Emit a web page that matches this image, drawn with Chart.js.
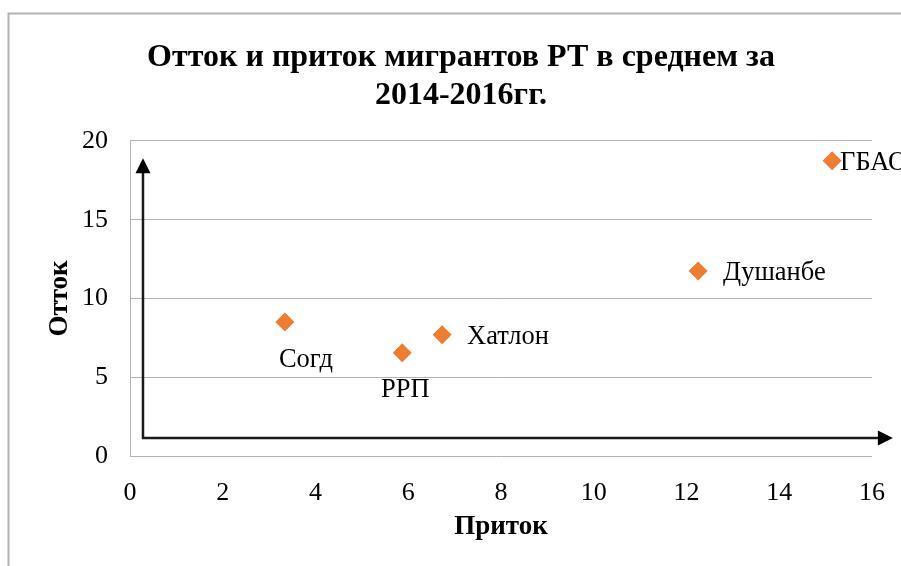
<!DOCTYPE html>
<html lang="ru">
<head>
<meta charset="utf-8">
<script src="https://cdn.jsdelivr.net/npm/chart.js@4/dist/chart.umd.min.js"></script>
<style>
  html, body { margin: 0; padding: 0; background: #fff; }
  #wrap { width: 901px; height: 566px; }
</style>
</head>
<body>
<div id="wrap"><canvas id="grafico" width="901" height="566"></canvas></div>
<script>
// Регионы и средние значения за 2014-2016
const regioes = ["Согд", "РРП", "Хатлон", "Душанбе", "ГБАО"];
const pritok = [3.34, 5.87, 6.73, 12.25, 15.14];
const ottok = [8.5, 6.55, 7.7, 11.75, 18.75];

const tituloLinhas = ["Отток и приток мигрантов РТ в среднем за", "2014-2016гг."];
const eixoX = "Приток";
const eixoY = "Отток";

// Стрелки осей (в единицах шкал)
const origemSeta = {x: 0.28, y: 1.15};
const fimSetaX = 16.45;
const fimSetaY = 18.9;

// Смещения подписей точек, px
const posRotulos = [
  {dx: 21, dy: 38, align: "center"},
  {dx: 3, dy: 37, align: "center"},
  {dx: 25, dy: 2, align: "left"},
  {dx: 25, dy: 2, align: "left"},
  {dx: 8, dy: 2, align: "left"}
];

const fonteSerif = "'Liberation Serif', 'Times New Roman', serif";
const cinza = "#b3b3b3";

// Рамка вокруг диаграммы
const moldura = {
  id: "moldura",
  beforeDraw(chart) {
    const ctx = chart.ctx;
    ctx.save();
    ctx.strokeStyle = cinza;
    ctx.lineWidth = 2;
    ctx.beginPath();
    ctx.moveTo(901, 13.5);
    ctx.lineTo(8.5, 13.5);
    ctx.lineTo(8.5, 566);
    ctx.stroke();
    ctx.restore();
  }
};

function pontaSeta(ctx, x, y, ang) {
  const comp = 15, meia = 7.5;
  ctx.beginPath();
  ctx.moveTo(x, y);
  ctx.lineTo(x - comp * Math.cos(ang) - meia * Math.sin(ang), y - comp * Math.sin(ang) + meia * Math.cos(ang));
  ctx.lineTo(x - comp * Math.cos(ang) + meia * Math.sin(ang), y - comp * Math.sin(ang) - meia * Math.cos(ang));
  ctx.closePath();
  ctx.fill();
}

// Стрелки осей и подписи точек
const setasERotulos = {
  id: "setasERotulos",
  afterDatasetsDraw(chart) {
    const ctx = chart.ctx;
    const sx = chart.scales.x, sy = chart.scales.y;
    const x0 = sx.getPixelForValue(origemSeta.x);
    const y0 = sy.getPixelForValue(origemSeta.y);
    const x1 = sx.getPixelForValue(fimSetaX);
    const y1 = sy.getPixelForValue(fimSetaY);
    ctx.save();
    ctx.strokeStyle = "#1a1a1a";
    ctx.fillStyle = "#000";
    ctx.lineWidth = 2.5;
    ctx.beginPath();
    ctx.moveTo(x0, y1 + 10);
    ctx.lineTo(x0, y0);
    ctx.lineTo(x1 - 10, y0);
    ctx.stroke();
    pontaSeta(ctx, x0, y1, -Math.PI / 2);
    pontaSeta(ctx, x1, y0, 0);

    ctx.font = "26.5px " + fonteSerif;
    ctx.fillStyle = "#000";
    ctx.textBaseline = "middle";
    regioes.forEach((r, i) => {
      const p = posRotulos[i];
      ctx.textAlign = p.align;
      ctx.fillText(r, sx.getPixelForValue(pritok[i]) + p.dx, sy.getPixelForValue(ottok[i]) + p.dy);
    });
    ctx.restore();
  }
};

const ctx = document.getElementById("grafico").getContext("2d");
new Chart(ctx, {
  type: "scatter",
  data: {
    datasets: [{
      data: pritok.map((v, i) => ({x: v, y: ottok[i]})),
      pointStyle: "rectRot",
      pointRadius: 9.5,
      pointHoverRadius: 9.5,
      backgroundColor: "#ed7d31",
      borderWidth: 0
    }]
  },
  options: {
    responsive: false,
    animation: false,
    layout: { padding: { left: 50, right: 29, top: 0, bottom: 0 } },
    plugins: {
      legend: { display: false },
      tooltip: { enabled: false },
      title: {
        display: true,
        text: tituloLinhas,
        color: "#000",
        font: { family: fonteSerif, size: 32, weight: "bold", lineHeight: 1.19 },
        padding: { top: 39, bottom: 25.8 }
      }
    },
    scales: {
      x: {
        type: "linear",
        min: 0,
        max: 16,
        ticks: { stepSize: 2, color: "#000", padding: 16, font: { family: fonteSerif, size: 26, lineHeight: 1.66 } },
        grid: { display: false, drawTicks: false },
        border: { display: false },
        title: {
          display: true,
          text: eixoX,
          color: "#000",
          font: { family: fonteSerif, size: 27, weight: "bold", lineHeight: 1.2 },
          padding: { top: 0, bottom: 23 }
        },
        afterFit(scale) { scale.height = 110; }
      },
      y: {
        type: "linear",
        min: 0,
        max: 20,
        ticks: { stepSize: 5, color: "#000", padding: 22, font: { family: fonteSerif, size: 26 } },
        grid: { color: cinza, lineWidth: 1, drawTicks: false },
        border: { display: true, color: cinza, width: 1 },
        title: {
          display: true,
          text: eixoY,
          color: "#000",
          font: { family: fonteSerif, size: 27, weight: "bold", lineHeight: 0.74 },
          padding: { top: 0, bottom: 0 }
        },
        afterFit(scale) { scale.width = 80; }
      }
    }
  },
  plugins: [moldura, setasERotulos]
});
</script>
</body>
</html>
